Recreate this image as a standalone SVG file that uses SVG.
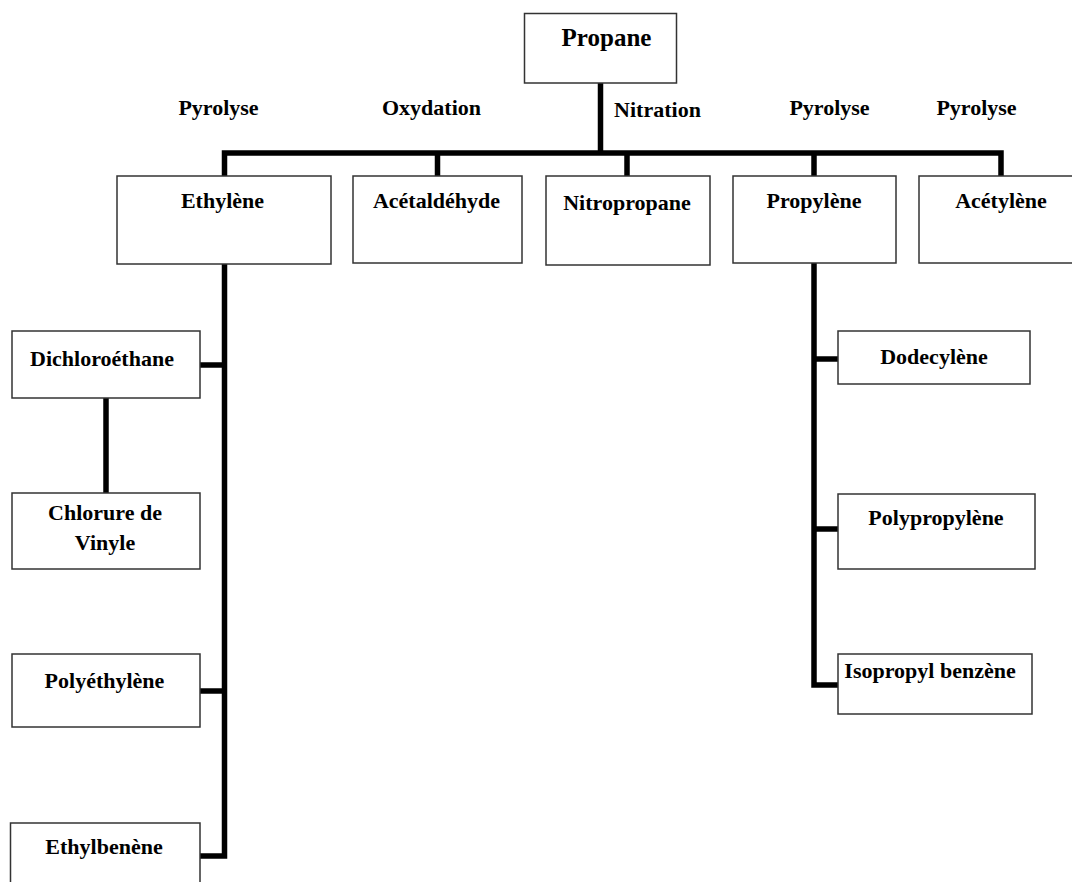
<svg xmlns="http://www.w3.org/2000/svg" width="1072" height="882" viewBox="0 0 1072 882">
<style>
.box{fill:#fff;stroke:#333;stroke-width:1.5}
.t{font-family:"Liberation Serif","Times New Roman",serif;font-weight:bold;font-size:22px;fill:#000;text-anchor:middle}
.big{font-size:25px}
.c{fill:none;stroke:#000;stroke-width:5.5;stroke-linejoin:miter;stroke-linecap:butt}
</style>
<rect width="1072" height="882" fill="#fff"/>
<g id="connectors">
<path class="c" d="M600.5,83 V153"/>
<path class="c" d="M224.5,176 V153 H1001 V176"/>
<path class="c" d="M437.5,153 V176"/>
<path class="c" d="M627,153 V176"/>
<path class="c" d="M814,153 V176"/>
<path class="c" d="M224.5,264 V856 H200"/>
<path class="c" d="M200,365 H224.5"/>
<path class="c" d="M200,691 H224.5"/>
<path class="c" d="M106,398 V493"/>
<path class="c" d="M814,263 V685 H838"/>
<path class="c" d="M814,359 H838"/>
<path class="c" d="M814,529 H838"/>
</g>
<g id="labels">
<text class="t" x="218.5" y="115">Pyrolyse</text>
<text class="t" x="431.5" y="115">Oxydation</text>
<text class="t" x="657.5" y="117">Nitration</text>
<text class="t" x="829.5" y="115">Pyrolyse</text>
<text class="t" x="976.5" y="115">Pyrolyse</text>
</g>
<g id="propane"><rect class="box" x="524.5" y="13.5" width="152" height="69.5"/><text class="t big" x="606.5" y="46">Propane</text></g>
<g id="ethylene"><rect class="box" x="117" y="176" width="214" height="88"/><text class="t" x="222.5" y="208">Ethylène</text></g>
<g id="acetaldehyde"><rect class="box" x="353" y="176" width="169" height="87"/><text class="t" x="436.5" y="208">Acétaldéhyde</text></g>
<g id="nitropropane"><rect class="box" x="546" y="176" width="164" height="89"/><text class="t" x="627" y="210">Nitropropane</text></g>
<g id="propylene"><rect class="box" x="733" y="176" width="163" height="87"/><text class="t" x="814" y="208">Propylène</text></g>
<g id="acetylene"><rect class="box" x="919" y="176" width="164" height="87"/><text class="t" x="1001" y="208">Acétylène</text></g>
<g id="dichloroethane"><rect class="box" x="12" y="331" width="188" height="67"/><text class="t" x="102" y="366">Dichloroéthane</text></g>
<g id="chlorure-de-vinyle"><rect class="box" x="12" y="493" width="188" height="76"/><text class="t" x="105" y="520">Chlorure de</text><text class="t" x="105" y="550">Vinyle</text></g>
<g id="polyethylene"><rect class="box" x="12" y="654" width="188" height="73"/><text class="t" x="104.5" y="688">Polyéthylène</text></g>
<g id="ethylbenene"><rect class="box" x="10.5" y="823" width="189.5" height="70"/><text class="t" x="104" y="854">Ethylbenène</text></g>
<g id="dodecylene"><rect class="box" x="838" y="331" width="192" height="53"/><text class="t" x="934" y="364">Dodecylène</text></g>
<g id="polypropylene"><rect class="box" x="838" y="494" width="197" height="75"/><text class="t" x="936" y="525">Polypropylène</text></g>
<g id="isopropyl-benzene"><rect class="box" x="838" y="654" width="194" height="60"/><text class="t" x="930" y="678">Isopropyl benzène</text></g>
</svg>
